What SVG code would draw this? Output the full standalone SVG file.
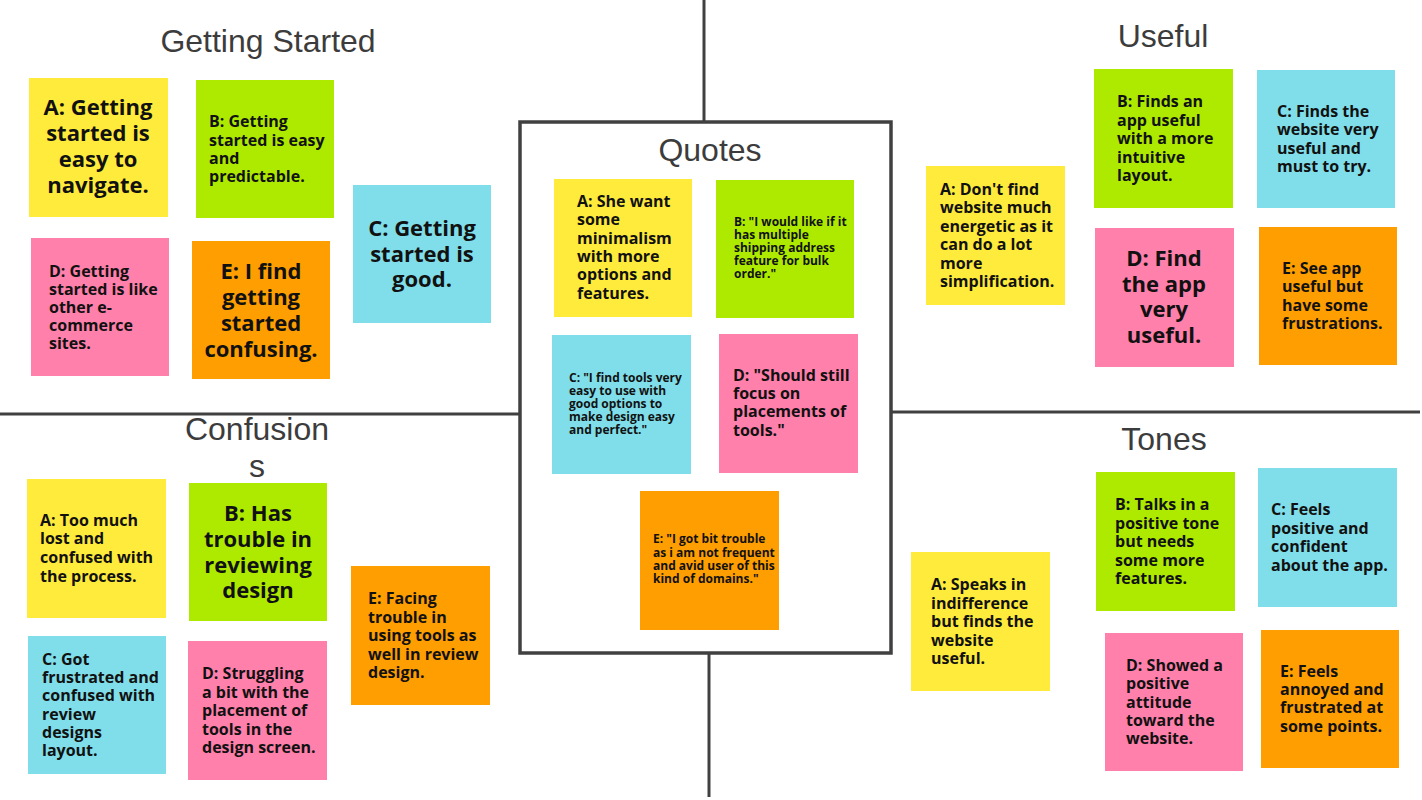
<svg xmlns="http://www.w3.org/2000/svg" width="1422" height="800" viewBox="0 0 1422 800">
<style>
.bg{fill:#ffffff}
.t{font-family:"Open Sans","Liberation Sans",sans-serif;font-weight:700;fill:#111111}
.m{font-size:16px}
.l{font-size:22px;text-anchor:middle}
.s{font-size:12px}
.title{font-family:"Liberation Sans",Arial,sans-serif;font-size:32px;fill:#3c3c3c;text-anchor:middle}
.y{fill:#FFEB3B}.g{fill:#AEEA00}.c{fill:#80DEEA}.p{fill:#FF80AB}.o{fill:#FF9E00}
.ln{stroke:#404040;stroke-width:3;fill:none;stroke-linecap:butt}
.box{stroke:#404040;stroke-width:3.5;fill:#ffffff}
</style>
<rect class="bg" x="0" y="0" width="1422" height="800"/>
<g id="connectors">
<line class="ln" x1="704" y1="0" x2="704" y2="122"/>
<line class="ln" x1="709" y1="653" x2="709" y2="797"/>
<line class="ln" x1="0" y1="414" x2="520" y2="414"/>
<line class="ln" x1="891" y1="412" x2="1420" y2="412"/>
</g>
<g id="quotes-box">
<rect class="box" x="520" y="122" width="371" height="531"/>
<text class="title" x="710" y="161">Quotes</text>
</g>
<g id="titles">
<text class="title" x="268" y="52">Getting Started</text>
<text class="title" x="1163" y="47">Useful</text>
<text class="title" x="1164" y="450">Tones</text>
<text class="title" x="257" y="440">Confusion<tspan x="257" y="477">s</tspan></text>
</g>
<!-- Getting Started -->
<g id="gs-a"><rect class="y" x="29" y="78" width="139" height="139"/>
<text class="t l"><tspan x="98" y="115">A: Getting</tspan><tspan x="98" y="141">started is</tspan><tspan x="98" y="167">easy to</tspan><tspan x="98" y="193">navigate.</tspan></text></g>
<g id="gs-b"><rect class="g" x="196" y="80" width="138" height="138"/>
<text class="t m"><tspan x="209" y="127">B: Getting</tspan><tspan x="209" y="146">started is easy</tspan><tspan x="209" y="164">and</tspan><tspan x="209" y="182">predictable.</tspan></text></g>
<g id="gs-c"><rect class="c" x="353" y="185" width="138" height="138"/>
<text class="t l"><tspan x="422" y="236">C: Getting</tspan><tspan x="422" y="262">started is</tspan><tspan x="422" y="287">good.</tspan></text></g>
<g id="gs-d"><rect class="p" x="31" y="238" width="138" height="138"/>
<text class="t m"><tspan x="49" y="277">D: Getting</tspan><tspan x="49" y="295">started is like</tspan><tspan x="49" y="313">other e-</tspan><tspan x="49" y="331">commerce</tspan><tspan x="49" y="349">sites.</tspan></text></g>
<g id="gs-e"><rect class="o" x="192" y="241" width="138" height="138"/>
<text class="t l"><tspan x="261" y="279">E: I find</tspan><tspan x="261" y="305">getting</tspan><tspan x="261" y="331">started</tspan><tspan x="261" y="357">confusing.</tspan></text></g>
<!-- Confusions -->
<g id="cf-a"><rect class="y" x="27" y="479" width="139" height="139"/>
<text class="t m"><tspan x="40" y="526">A: Too much</tspan><tspan x="40" y="544">lost and</tspan><tspan x="40" y="563">confused with</tspan><tspan x="40" y="582">the process.</tspan></text></g>
<g id="cf-b"><rect class="g" x="189" y="483" width="138" height="138"/>
<text class="t l"><tspan x="258" y="521">B: Has</tspan><tspan x="258" y="547">trouble in</tspan><tspan x="258" y="573">reviewing</tspan><tspan x="258" y="598">design</tspan></text></g>
<g id="cf-c"><rect class="c" x="28" y="636" width="138" height="138"/>
<text class="t m"><tspan x="42" y="665">C: Got</tspan><tspan x="42" y="683">frustrated and</tspan><tspan x="42" y="701">confused with</tspan><tspan x="42" y="720">review</tspan><tspan x="42" y="738">designs</tspan><tspan x="42" y="756">layout.</tspan></text></g>
<g id="cf-d"><rect class="p" x="188" y="641" width="139" height="139"/>
<text class="t m"><tspan x="202" y="679">D: Struggling</tspan><tspan x="202" y="698">a bit with the</tspan><tspan x="202" y="716">placement of</tspan><tspan x="202" y="735">tools in the</tspan><tspan x="202" y="753">design screen.</tspan></text></g>
<g id="cf-e"><rect class="o" x="351" y="566" width="139" height="139"/>
<text class="t m"><tspan x="368" y="604">E: Facing</tspan><tspan x="368" y="623">trouble in</tspan><tspan x="368" y="641">using tools as</tspan><tspan x="368" y="660">well in review</tspan><tspan x="368" y="678">design.</tspan></text></g>
<!-- Quotes -->
<g id="q-a"><rect class="y" x="554" y="179" width="138" height="138"/>
<text class="t m"><tspan x="577" y="207">A: She want</tspan><tspan x="577" y="225">some</tspan><tspan x="577" y="244">minimalism</tspan><tspan x="577" y="262">with more</tspan><tspan x="577" y="280">options and</tspan><tspan x="577" y="299">features.</tspan></text></g>
<g id="q-b"><rect class="g" x="716" y="180" width="138" height="138"/>
<text class="t s"><tspan x="734" y="226">B: "I would like if it</tspan><tspan x="734" y="239">has multiple</tspan><tspan x="734" y="252">shipping address</tspan><tspan x="734" y="265">feature for bulk</tspan><tspan x="734" y="278">order."</tspan></text></g>
<g id="q-c"><rect class="c" x="552" y="335" width="139" height="139"/>
<text class="t s"><tspan x="569" y="382">C: "I find tools very</tspan><tspan x="569" y="395">easy to use with</tspan><tspan x="569" y="408">good options to</tspan><tspan x="569" y="421">make design easy</tspan><tspan x="569" y="434">and perfect."</tspan></text></g>
<g id="q-d"><rect class="p" x="719" y="334" width="139" height="139"/>
<text class="t m"><tspan x="733" y="381">D: "Should still</tspan><tspan x="733" y="399">focus on</tspan><tspan x="733" y="417">placements of</tspan><tspan x="733" y="436">tools."</tspan></text></g>
<g id="q-e"><rect class="o" x="640" y="491" width="139" height="139"/>
<text class="t s"><tspan x="653" y="543">E: "I got bit trouble</tspan><tspan x="653" y="557">as i am not frequent</tspan><tspan x="653" y="570">and avid user of this</tspan><tspan x="653" y="583">kind of domains."</tspan></text></g>
<!-- Useful -->
<g id="u-a"><rect class="y" x="926" y="166" width="139" height="139"/>
<text class="t m"><tspan x="940" y="195">A: Don't find</tspan><tspan x="940" y="213">website much</tspan><tspan x="940" y="232">energetic as it</tspan><tspan x="940" y="250">can do a lot</tspan><tspan x="940" y="269">more</tspan><tspan x="940" y="287">simplification.</tspan></text></g>
<g id="u-b"><rect class="g" x="1094" y="69" width="139" height="139"/>
<text class="t m"><tspan x="1117" y="107">B: Finds an</tspan><tspan x="1117" y="126">app useful</tspan><tspan x="1117" y="144">with a more</tspan><tspan x="1117" y="163">intuitive</tspan><tspan x="1117" y="181">layout.</tspan></text></g>
<g id="u-c"><rect class="c" x="1257" y="70" width="138" height="138"/>
<text class="t m"><tspan x="1277" y="117">C: Finds the</tspan><tspan x="1277" y="135">website very</tspan><tspan x="1277" y="154">useful and</tspan><tspan x="1277" y="172">must to try.</tspan></text></g>
<g id="u-d"><rect class="p" x="1095" y="228" width="139" height="139"/>
<text class="t l"><tspan x="1164" y="266">D: Find</tspan><tspan x="1164" y="292">the app</tspan><tspan x="1164" y="317">very</tspan><tspan x="1164" y="343">useful.</tspan></text></g>
<g id="u-e"><rect class="o" x="1259" y="227" width="138" height="138"/>
<text class="t m"><tspan x="1282" y="274">E: See app</tspan><tspan x="1282" y="292">useful but</tspan><tspan x="1282" y="311">have some</tspan><tspan x="1282" y="329">frustrations.</tspan></text></g>
<!-- Tones -->
<g id="t-a"><rect class="y" x="911" y="552" width="139" height="139"/>
<text class="t m"><tspan x="931" y="590">A: Speaks in</tspan><tspan x="931" y="609">indifference</tspan><tspan x="931" y="627">but finds the</tspan><tspan x="931" y="646">website</tspan><tspan x="931" y="664">useful.</tspan></text></g>
<g id="t-b"><rect class="g" x="1096" y="472" width="139" height="139"/>
<text class="t m"><tspan x="1115" y="510">B: Talks in a</tspan><tspan x="1115" y="529">positive tone</tspan><tspan x="1115" y="547">but needs</tspan><tspan x="1115" y="566">some more</tspan><tspan x="1115" y="584">features.</tspan></text></g>
<g id="t-c"><rect class="c" x="1258" y="468" width="139" height="139"/>
<text class="t m"><tspan x="1271" y="515">C: Feels</tspan><tspan x="1271" y="534">positive and</tspan><tspan x="1271" y="552">confident</tspan><tspan x="1271" y="571">about the app.</tspan></text></g>
<g id="t-d"><rect class="p" x="1105" y="633" width="138" height="138"/>
<text class="t m"><tspan x="1126" y="671">D: Showed a</tspan><tspan x="1126" y="689">positive</tspan><tspan x="1126" y="708">attitude</tspan><tspan x="1126" y="726">toward the</tspan><tspan x="1126" y="744">website.</tspan></text></g>
<g id="t-e"><rect class="o" x="1261" y="630" width="138" height="138"/>
<text class="t m"><tspan x="1280" y="677">E: Feels</tspan><tspan x="1280" y="695">annoyed and</tspan><tspan x="1280" y="713">frustrated at</tspan><tspan x="1280" y="732">some points.</tspan></text></g>
</svg>
